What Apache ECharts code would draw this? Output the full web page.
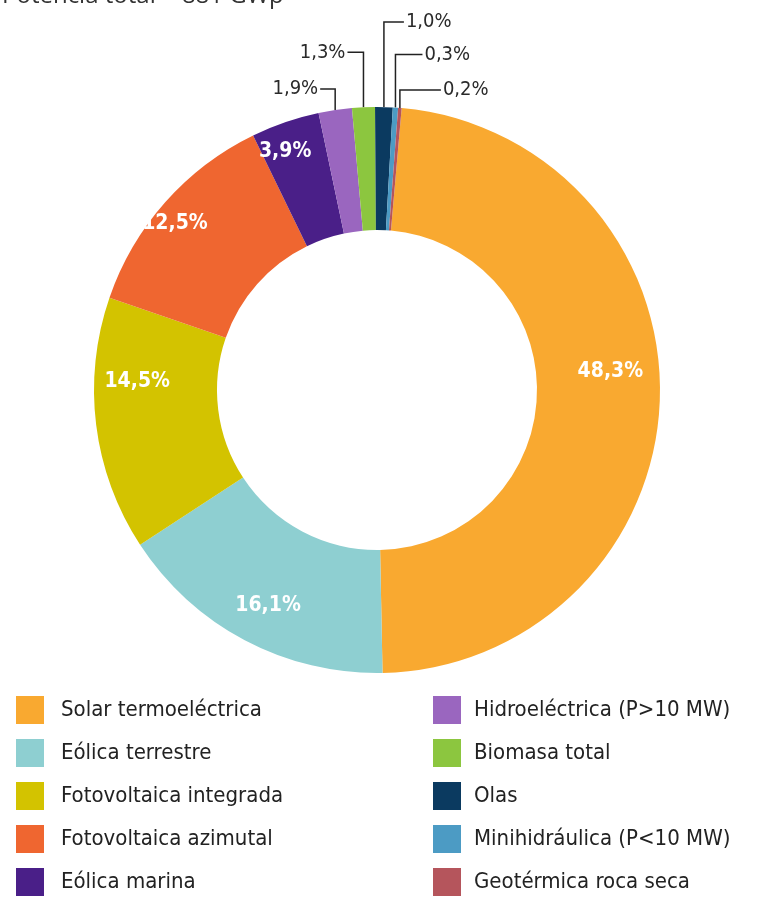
<!DOCTYPE html>
<html>
<head>
<meta charset="utf-8">
<script src="https://cdn.jsdelivr.net/npm/echarts@6/dist/echarts.min.js"></script>
<style>
  html, body { margin: 0; padding: 0; background: #ffffff; }
  #chart { width: 775px; height: 911px; }
</style>
</head>
<body>
<div id="chart"></div>
<script>
// Installed renewable potential by technology (share of total, %)
const categories = [
  'Solar termoeléctrica',
  'Eólica terrestre',
  'Fotovoltaica integrada',
  'Fotovoltaica azimutal',
  'Eólica marina',
  'Hidroeléctrica (P>10 MW)',
  'Biomasa total',
  'Olas',
  'Minihidráulica (P<10 MW)',
  'Geotérmica roca seca'
];
const shares = [48.3, 16.1, 14.5, 12.5, 3.9, 1.9, 1.3, 1.0, 0.3, 0.2];
const colors = [
  '#f9a930', '#8ecfd1', '#d3c300', '#ef6630', '#4a1f88',
  '#9a66bf', '#8cc63f', '#0b3a60', '#4c9bc4', '#b5555c'
];
const titleText = 'Potencia total = 881 GWp';

// Leader lines for the thin slices: vertical rise above the rim, then a horizontal run
const leaderRise = { 5: 21, 6: 55, 7: 85, 8: 53, 9: 18 };
const leaderRun = { 5: 15, 6: 16, 7: 20, 8: 27, 9: 41 };
// Nudges for the labels printed inside the wide slices
const insideShift = { 0: [9, -26], 1: [-4, 17], 2: [-17, -36], 3: [-34, -18], 4: [-19, -26] };

const condensed = '"Liberation Sans Narrow", "DejaVu Sans Condensed", "Roboto", sans-serif';
const fmt = v => v.toFixed(1).replace('.', ',') + '%';

const pieData = categories.map((name, i) => {
  const inside = shares[i] >= 3;
  return {
    name: name,
    value: shares[i],
    itemStyle: { color: colors[i] },
    label: inside
      ? { position: 'inside', color: '#ffffff', fontWeight: 'bold', fontSize: 21 }
      : { position: 'outside', color: '#2a2a2a', fontSize: 20 },
    labelLine: { show: !inside }
  };
});

const chart = echarts.init(document.getElementById('chart'), null, { renderer: 'canvas' });

chart.setOption({
  backgroundColor: '#ffffff',
  animation: false,
  title: {
    text: titleText,
    left: -3,
    top: -21,
    textStyle: { fontFamily: '"Open Sans", sans-serif', fontSize: 24, fontWeight: 'normal', color: '#333333' }
  },
  legend: [
    {
      data: categories.slice(0, 5),
      orient: 'vertical',
      left: 11,
      top: 691,
      icon: 'rect',
      itemWidth: 28,
      itemHeight: 28,
      itemGap: 15,
      selectedMode: false,
      textStyle: { fontFamily: condensed, fontSize: 22, color: '#222222', padding: [0, 0, 0, 12] }
    },
    {
      data: categories.slice(5),
      orient: 'vertical',
      left: 428,
      top: 691,
      icon: 'rect',
      itemWidth: 28,
      itemHeight: 28,
      itemGap: 15,
      selectedMode: false,
      textStyle: { fontFamily: condensed, fontSize: 22, color: '#222222', padding: [0, 0, 0, 8] }
    }
  ],
  series: [
    {
      type: 'pie',
      center: [377, 390],
      radius: [160, 283],
      startAngle: 85,
      clockwise: true,
      avoidLabelOverlap: false,
      silent: true,
      data: pieData,
      label: {
        fontFamily: condensed,
        formatter: p => fmt(p.value)
      },
      labelLine: {
        length: 10,
        length2: 10,
        lineStyle: { color: '#222222', width: 1.5 }
      },
      labelLayout: function (params) {
        const i = params.dataIndex;
        const r = params.labelRect;
        if (shares[i] >= 3) {
          const s = insideShift[i];
          return {
            x: r.x + r.width / 2 + s[0],
            y: r.y + r.height / 2 + s[1],
            align: 'center',
            verticalAlign: 'middle'
          };
        }
        if (!params.labelLinePoints) return {};
        const p0 = params.labelLinePoints[0];
        const toLeft = p0[0] < 377;
        const p1 = [p0[0], p0[1] - leaderRise[i]];
        const p2 = [p1[0] + (toLeft ? -leaderRun[i] : leaderRun[i]), p1[1]];
        return {
          x: p2[0] + (toLeft ? -2 : 2),
          y: p2[1],
          align: toLeft ? 'right' : 'left',
          verticalAlign: 'middle',
          labelLinePoints: [p0, p1, p2]
        };
      }
    }
  ]
});
</script>
</body>
</html>
